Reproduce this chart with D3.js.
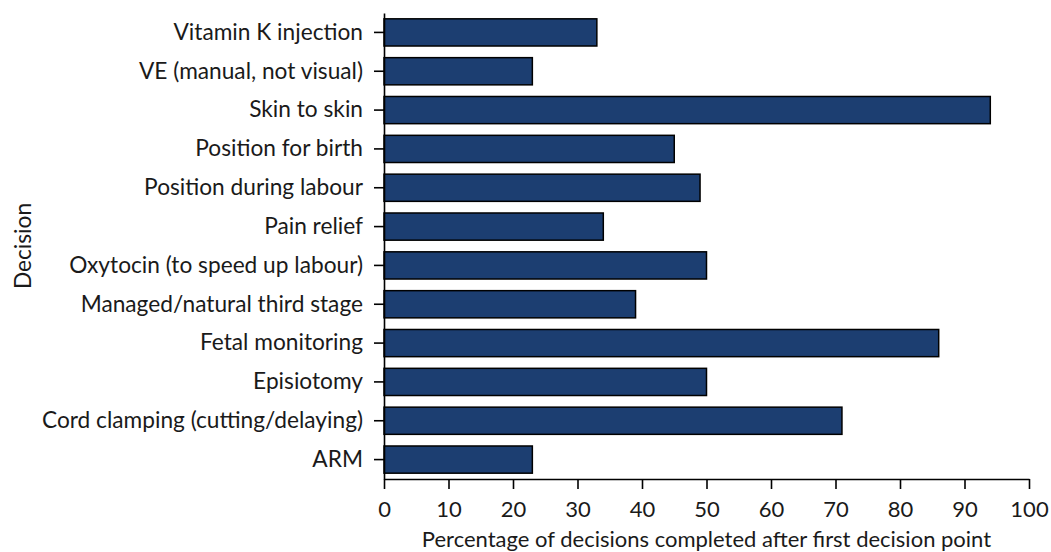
<!DOCTYPE html>
<html>
<head>
<meta charset="utf-8">
<script src="https://cdn.jsdelivr.net/npm/d3@7"></script>
<style>
  body { margin: 0; background: #fff; }
  text { font-family: Lato, "Open Sans", sans-serif; fill: #1a1a1a; }
</style>
</head>
<body>
<div id="chart"></div>
<script>
const categories = [
  'Vitamin K injection',
  'VE (manual, not visual)',
  'Skin to skin',
  'Position for birth',
  'Position during labour',
  'Pain relief',
  'Oxytocin (to speed up labour)',
  'Managed/natural third stage',
  'Fetal monitoring',
  'Episiotomy',
  'Cord clamping (cutting/delaying)',
  'ARM'
];
const values = [33, 23, 94, 45, 49, 34, 50, 39, 86, 50, 71, 23];
const xTicks = [0, 10, 20, 30, 40, 50, 60, 70, 80, 90, 100];

const width = 1051;
const height = 552;
const margin = { top: 13, right: 22, bottom: 73, left: 384 };
const innerW = width - margin.left - margin.right;
const innerH = height - margin.top - margin.bottom;
const fontSize = 22;
const yFontSize = 22.7;

const svg = d3.select('#chart').append('svg')
  .attr('width', width)
  .attr('height', height);

const g = svg.append('g')
  .attr('transform', `translate(${margin.left}, ${margin.top})`);

const xScale = d3.scaleLinear()
  .domain([0, 100])
  .range([0, innerW]);

const yScale = d3.scaleBand()
  .domain(categories)
  .range([0, innerH])
  .paddingInner(0.3)
  .paddingOuter(0.15);

// bars
g.selectAll('.bar')
  .data(categories.map((c, i) => ({ name: c, value: values[i] })))
  .enter()
  .append('rect')
  .attr('class', 'bar')
  .attr('x', 0)
  .attr('y', d => yScale(d.name))
  .attr('width', d => xScale(d.value))
  .attr('height', yScale.bandwidth())
  .attr('fill', '#1c3e71')
  .attr('stroke', '#000')
  .attr('stroke-width', 1.5);

// x 轴
const xAxis = d3.axisBottom(xScale)
  .tickValues(xTicks)
  .tickSize(10)
  .tickSizeOuter(0)
  .tickPadding(12);

const gx = g.append('g')
  .attr('transform', `translate(0, ${innerH})`)
  .call(xAxis);

// y 轴
const yAxis = d3.axisLeft(yScale)
  .tickSize(10)
  .tickSizeOuter(0)
  .tickPadding(11);

const gy = g.append('g').call(yAxis);

[[gx, fontSize], [gy, yFontSize]].forEach(([a, fs]) => {
  a.selectAll('text')
    .style('font-size', `${fs}px`)
    .style('font-family', 'Lato, sans-serif')
    .attr('fill', '#1a1a1a');
  a.selectAll('line, path')
    .attr('stroke', '#000')
    .attr('stroke-width', 1.6);
});

svg.append('text')
  .attr('x', margin.left + innerW / 2)
  .attr('y', 547)
  .attr('text-anchor', 'middle')
  .style('font-size', `${fontSize}px`)
  .text('Percentage of decisions completed after first decision point');

svg.append('text')
  .attr('transform', `translate(31, ${margin.top + innerH / 2}) rotate(-90)`)
  .attr('text-anchor', 'middle')
  .style('font-size', `${yFontSize}px`)
  .text('Decision');
</script>
</body>
</html>
